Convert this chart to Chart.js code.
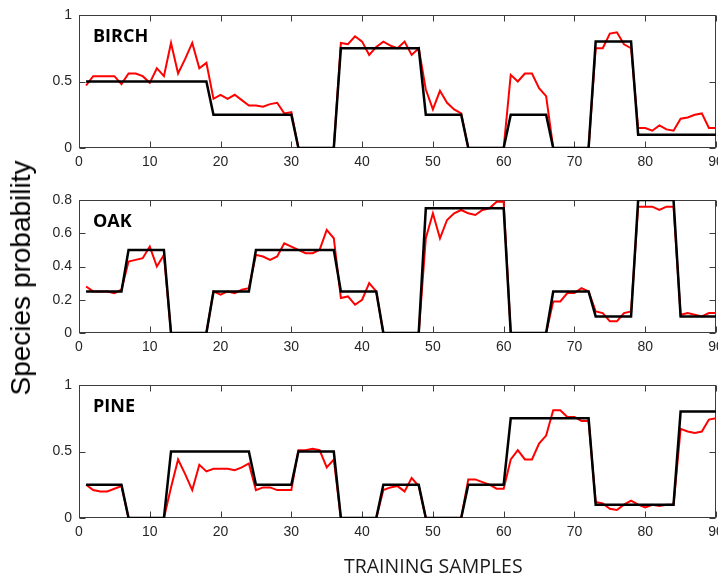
<!DOCTYPE html>
<html>
<head>
<meta charset="utf-8">
<script src="https://cdn.jsdelivr.net/npm/chart.js@4/dist/chart.umd.min.js"></script>
<style>
  body { margin: 0; background: #fff; }
  #wrap { position: relative; width: 718px; height: 578px; overflow: hidden; }
  .panel { position: absolute; left: 0; width: 718px; height: 185px; }
  #ylab { position: absolute; left: 21px; top: 278px; transform: translate(-50%, -50%) rotate(-90deg);
          font: 28px "Liberation Sans", Arial, sans-serif; line-height: 28px; white-space: nowrap; color: #000; }
  #xlab { position: absolute; left: 344px; top: 552px; font: 19.5px "Open Sans", sans-serif; color: #1a1a1a; white-space: nowrap; }
</style>
</head>
<body>
<div id="wrap">
  <div class="panel" style="top:0"><canvas id="birch"></canvas></div>
  <div class="panel" style="top:185px"><canvas id="oak"></canvas></div>
  <div class="panel" style="top:370px"><canvas id="pine"></canvas></div>
  <div id="ylab">Species probability</div>
  <div id="xlab">TRAINING SAMPLES</div>
</div>
<script>
// sample index 1..90
const samples = Array.from({ length: 90 }, (_, i) => i + 1);
const xTicks = [0, 10, 20, 30, 40, 50, 60, 70, 80, 90];
const yTicksBirch = [0, 0.5, 1];
const yTicksOak = [0, 0.2, 0.4, 0.6, 0.8];
const yTicksPine = [0, 0.5, 1];

// black = true class probability, red = estimate
const birchTrue = [
  .5, .5, .5, .5, .5, .5, .5, .5, .5, .5,
  .5, .5, .5, .5, .5, .5, .5, .5, .25, .25,
  .25, .25, .25, .25, .25, .25, .25, .25, .25, .25,
  0, 0, 0, 0, 0, 0, .75, .75, .75, .75,
  .75, .75, .75, .75, .75, .75, .75, .75, .25, .25,
  .25, .25, .25, .25, 0, 0, 0, 0, 0, 0,
  .25, .25, .25, .25, .25, .25, 0, 0, 0, 0,
  0, 0, .8, .8, .8, .8, .8, .8, .1, .1,
  .1, .1, .1, .1, .1, .1, .1, .1, .1, .1
];
const birchEst = [
  .47, .54, .54, .54, .54, .48, .56, .56, .54, .49,
  .60, .54, .79, .56, .67, .79, .60, .64, .37, .40,
  .37, .40, .36, .32, .32, .31, .33, .34, .26, .27,
  0, 0, 0, 0, 0, 0, .79, .78, .84, .80,
  .70, .76, .80, .77, .75, .80, .70, .75, .44, .29,
  .43, .34, .29, .26, 0, 0, 0, 0, 0, 0,
  .55, .50, .56, .56, .45, .39, 0, 0, 0, 0,
  0, 0, .75, .75, .86, .87, .78, .75, .15, .15,
  .13, .17, .14, .13, .22, .23, .25, .26, .15, .15
];

const oakTrue = [
  .25, .25, .25, .25, .25, .25, .5, .5, .5, .5,
  .5, .5, 0, 0, 0, 0, 0, 0, .25, .25,
  .25, .25, .25, .25, .5, .5, .5, .5, .5, .5,
  .5, .5, .5, .5, .5, .5, .25, .25, .25, .25,
  .25, .25, 0, 0, 0, 0, 0, 0, .75, .75,
  .75, .75, .75, .75, .75, .75, .75, .75, .75, .75,
  0, 0, 0, 0, 0, 0, .25, .25, .25, .25,
  .25, .25, .1, .1, .1, .1, .1, .1, .8, .8,
  .8, .8, .8, .8, .1, .1, .1, .1, .1, .1
];
const oakEst = [
  .28, .25, .25, .25, .24, .26, .43, .44, .45, .52,
  .40, .47, 0, 0, 0, 0, 0, 0, .25, .23,
  .25, .24, .26, .27, .47, .46, .44, .46, .54, .52,
  .50, .48, .48, .50, .62, .57, .21, .22, .17, .20,
  .30, .25, 0, 0, 0, 0, 0, 0, .57, .72,
  .57, .68, .72, .74, .72, .71, .74, .75, .79, .79,
  0, 0, 0, 0, 0, 0, .19, .19, .24, .24,
  .27, .25, .13, .12, .07, .07, .12, .13, .76, .76,
  .76, .74, .76, .76, .11, .12, .11, .10, .12, .12
];

const pineTrue = [
  .25, .25, .25, .25, .25, .25, 0, 0, 0, 0,
  0, 0, .5, .5, .5, .5, .5, .5, .5, .5,
  .5, .5, .5, .5, .25, .25, .25, .25, .25, .25,
  .5, .5, .5, .5, .5, .5, 0, 0, 0, 0,
  0, 0, .25, .25, .25, .25, .25, .25, 0, 0,
  0, 0, 0, 0, .25, .25, .25, .25, .25, .25,
  .75, .75, .75, .75, .75, .75, .75, .75, .75, .75,
  .75, .75, .1, .1, .1, .1, .1, .1, .1, .1,
  .1, .1, .1, .1, .8, .8, .8, .8, .8, .8
];
const pineEst = [
  .25, .21, .20, .20, .22, .24, 0, 0, 0, 0,
  0, 0, .23, .44, .33, .21, .40, .35, .37, .37,
  .37, .36, .38, .41, .21, .23, .23, .21, .21, .21,
  .51, .51, .52, .51, .38, .44, 0, 0, 0, 0,
  0, 0, .21, .23, .24, .20, .30, .24, 0, 0,
  0, 0, 0, 0, .29, .29, .27, .25, .22, .22,
  .44, .51, .44, .44, .56, .62, .81, .81, .76, .76,
  .73, .73, .12, .11, .07, .06, .10, .13, .10, .08,
  .10, .09, .10, .10, .67, .65, .64, .65, .74, .75
];

const tickFont = { family: '"Liberation Sans", Arial, sans-serif', size: 14 };

// axes box, inward tick marks on all four sides, species name
const framePlugin = {
  id: 'frame',
  beforeDatasetsDraw(chart, args, opts) {
    const { ctx, chartArea: a, scales: { x, y } } = chart;
    ctx.save();
    ctx.strokeStyle = '#3c3c3c';
    ctx.lineWidth = 1;
    const l = Math.round(a.left) + 0.5, r = Math.round(a.right) - 0.5;
    const t = Math.round(a.top) + 0.5, b = Math.round(a.bottom) - 0.5;
    ctx.strokeRect(l, t, r - l, b - t);
    ctx.beginPath();
    x.ticks.forEach(tk => {
      const px = Math.round(x.getPixelForValue(tk.value)) + 0.5;
      ctx.moveTo(px, b); ctx.lineTo(px, b - 6);
      ctx.moveTo(px, t); ctx.lineTo(px, t + 6);
    });
    y.ticks.forEach(tk => {
      const py = Math.round(y.getPixelForValue(tk.value)) + 0.5;
      ctx.moveTo(l, py); ctx.lineTo(l + 6, py);
      ctx.moveTo(r, py); ctx.lineTo(r - 6, py);
    });
    ctx.stroke();
    ctx.fillStyle = '#000';
    ctx.font = 'bold 18px "Open Sans", sans-serif';
    ctx.textBaseline = 'alphabetic';
    ctx.fillText(opts.name, a.left + 14, a.top + 27);
    ctx.restore();
  }
};

function makePanel(id, name, est, truth, yMax, yTicks) {
  return new Chart(document.getElementById(id), {
    type: 'line',
    data: {
      datasets: [
        { data: truth.map((v, i) => ({ x: samples[i], y: v })), borderColor: '#000', borderWidth: 2.5,
          pointRadius: 0, tension: 0 },
        { data: est.map((v, i) => ({ x: samples[i], y: v })), borderColor: '#ff0000', borderWidth: 2,
          pointRadius: 0, tension: 0 }
      ]
    },
    options: {
      responsive: false,
      animation: false,
      devicePixelRatio: 1,
      layout: { padding: { top: 15, right: 2, left: 0, bottom: 0 } },
      plugins: { legend: { display: false }, tooltip: { enabled: false }, frame: { name } },
      scales: {
        x: {
          type: 'linear', min: 0, max: 90,
          grid: { display: false, drawTicks: false }, border: { display: false },
          ticks: { font: tickFont, color: '#262626', padding: 6, maxRotation: 0 },
          afterBuildTicks: s => { s.ticks = xTicks.map(v => ({ value: v })); },
          afterFit: s => { s.height = 37; s.paddingLeft = 0; s.paddingRight = 0; }
        },
        y: {
          min: 0, max: yMax,
          grid: { display: false, drawTicks: false }, border: { display: false },
          ticks: { font: tickFont, color: '#262626', padding: 7, callback: v => String(v) },
          afterBuildTicks: s => { s.ticks = yTicks.map(v => ({ value: v })); },
          afterFit: s => { s.width = 79; s.paddingTop = 0; s.paddingBottom = 0; }
        }
      }
    },
    plugins: [framePlugin]
  });
}

for (const id of ['birch', 'oak', 'pine']) {
  const c = document.getElementById(id);
  c.width = 718; c.height = 185;
}

makePanel('birch', 'BIRCH', birchEst, birchTrue, 1, yTicksBirch);
makePanel('oak', 'OAK', oakEst, oakTrue, 0.8, yTicksOak);
makePanel('pine', 'PINE', pineEst, pineTrue, 1, yTicksPine);
</script>
</body>
</html>
